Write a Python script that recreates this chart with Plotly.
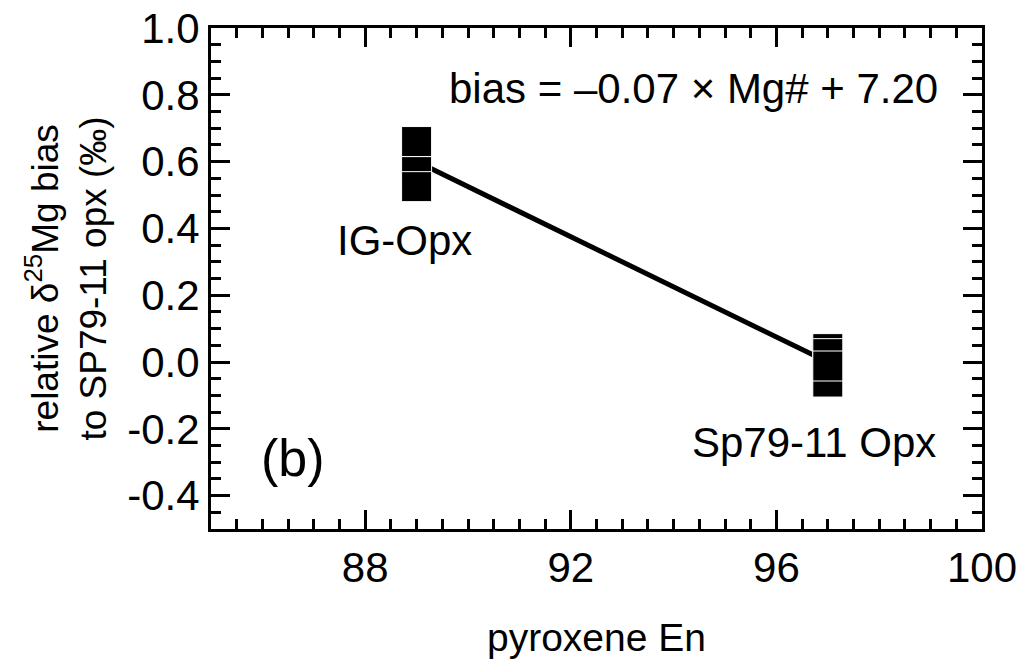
import plotly.graph_objects as go

# Data
ig_en = [89, 89, 89]
ig_bias = [0.66, 0.57, 0.525]
sp_en = [97, 97, 97, 97]
sp_bias = [-0.06, 0.04, 0.025, -0.012]
fit_en = [89, 97]
fit_bias = [0.60, 0.0]

x_tickvals = [88, 92, 96, 100]
x_ticktext = ["88", "92", "96", "100"]
y_tickvals = [1.0, 0.8, 0.6, 0.4, 0.2, 0.0, -0.2, -0.4]
y_ticktext = ["1.0", "0.8", "0.6", "0.4", "0.2", "0.0", "-0.2", "-0.4"]

FONT = "Liberation Sans, Arial, Helvetica, sans-serif"

fig = go.Figure()
fig.add_trace(go.Scatter(x=fit_en, y=fit_bias, mode="lines",
                         line=dict(color="black", width=5), showlegend=False))
marker = dict(symbol="square", size=30, color="black",
              line=dict(color="white", width=1))
fig.add_trace(go.Scatter(x=ig_en, y=ig_bias, mode="markers", marker=marker, showlegend=False))
fig.add_trace(go.Scatter(x=sp_en, y=sp_bias, mode="markers", marker=marker, showlegend=False))

axis_common = dict(showgrid=False, zeroline=False, showline=True, linecolor="black",
                   linewidth=3, mirror="allticks", ticks="inside", tickcolor="black",
                   tickwidth=2.5, ticklen=19, automargin=False,
                   tickfont=dict(family=FONT, size=42, color="black"))

fig.update_xaxes(range=[85, 100], tickvals=x_tickvals, ticktext=x_ticktext,
                 minor=dict(dtick=0.5, tick0=85, ticks="inside", ticklen=10,
                            tickwidth=2.5, tickcolor="black"),
                 title=dict(text="pyroxene En", font=dict(family=FONT, size=39, color="black"),
                            standoff=34),
                 **axis_common)
fig.update_yaxes(range=[-0.5, 1.0], tickvals=y_tickvals, ticktext=y_ticktext,
                 minor=dict(dtick=0.05, tick0=0, ticks="inside", ticklen=10,
                            tickwidth=2.5, tickcolor="black"),
                 title=dict(text="relative δ<sup>25</sup>Mg bias<br>to SP79-11 opx (‰)",
                            font=dict(family=FONT, size=37, color="black"), standoff=10),
                 **axis_common)

ann_font = dict(family=FONT, size=42, color="black")
fig.add_annotation(x=99.18, y=0.82, text="bias = –0.07 × Mg# + 7.20", showarrow=False,
                   xanchor="right", yanchor="middle", font=ann_font)
fig.add_annotation(x=88.77, y=0.365, text="IG-Opx", showarrow=False,
                   xanchor="center", yanchor="middle", font=ann_font)
fig.add_annotation(x=99.14, y=-0.24, text="Sp79-11 Opx", showarrow=False,
                   xanchor="right", yanchor="middle", font=ann_font)
fig.add_annotation(x=86.6, y=-0.287, text="(b)", showarrow=False,
                   xanchor="center", yanchor="middle",
                   font=dict(family=FONT, size=52, color="black"))

fig.update_layout(width=1021, height=662, plot_bgcolor="white", paper_bgcolor="white",
                  margin=dict(l=211, r=39, t=28, b=133), font=dict(family=FONT))

fig.write_html("out.html", config={"displayModeBar": False},
               post_script="document.body.style.margin='0';document.body.style.padding='0';")
